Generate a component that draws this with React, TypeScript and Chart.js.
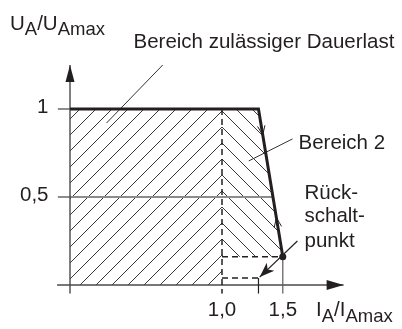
import React, { useEffect, useRef } from 'react';
import { Chart, registerables, LinearScale } from 'chart.js';

Chart.register(...registerables);

// ---------- data (real axis units: I_A/I_Amax, U_A/U_Amax) ----------
const xTicks = [1.0, 1.5];
const xTickLabels = ['1,0', '1,5'];
const yTicks = [0.5, 1];
const yTickLabels = ['0,5', '1'];

const limitX = [0, 1.3, 1.5];
const limitY = [1, 1, 0.16];

const region1X = [0, 1.0];
const region1Y = [1, 1];
const region2X = [1.0, 1.3, 1.5];
const region2Y = [1, 1, 0.16];
const region2Floor = 0.16;

const switchPointX = [1.5];
const switchPointY = [0.16];

const dashTopX = [1.0, 1.5];
const dashTopY = [0.16, 0.16];
const dashBottomX = [1.0, 1.3];
const dashBottomY = [0.04, 0.04];
const dashVertX = [1.0, 1.0];
const dashVertY = [1, -0.05];
const tick13X = [1.3, 1.3];
const tick13Y = [0.04, -0.05];
const vert15X = [1.5, 1.5];
const vert15Y = [0.16, -0.05];

const gridHalfX = [-0.08, 1.42];
const gridHalfY = [0.5, 0.5];
const gridOneX = [-0.08, 0];
const gridOneY = [1, 1];

const xAxisX = [-0.085, 2.0];
const xAxisY = [0, 0];
const yAxisX = [0, 0];
const yAxisY = [-0.05, 1.25];

const leader1X = [0.61, 0.24];
const leader1Y = [1.25, 0.92];
const leader2X = [1.58, 1.22];
const leader2Y = [0.83, 0.705];
const returnArrowX = [1.62, 1.31];
const returnArrowY = [0.25, 0.045];

// ---------- styling ----------
const INK = '#231f20';
const FONT = '"Liberation Sans", Arial, Helvetica, sans-serif';
const MAIN = 20.5;
const SUB = 18.5;
const HATCH = 16;

// The original draws the axis beyond 1,0 compressed (schematic axis)
class SchematicScale extends LinearScale {
  static id = 'schematic';
  getPixelForValue(value: number) {
    if (value === null || value === undefined || isNaN(value)) return NaN;
    const u = value <= 1 ? value : 1 + (value - 1) * 0.8;
    return super.getPixelForValue(u);
  }
}
Chart.register(SchematicScale as any);

const pts = (xs: number[], ys: number[]) => xs.map((x, i) => ({ x, y: ys[i] }));

function makeHatch(ctx: CanvasRenderingContext2D, kind: 'fwd' | 'back') {
  const s = HATCH;
  const c = document.createElement('canvas');
  c.width = s;
  c.height = s;
  const g = c.getContext('2d')!;
  g.strokeStyle = '#3a3a3a';
  g.lineWidth = 1;
  g.beginPath();
  if (kind === 'fwd') {
    g.moveTo(-2, s + 2); g.lineTo(s + 2, -2);
    g.moveTo(-2, 2); g.lineTo(2, -2);
    g.moveTo(s - 2, s + 2); g.lineTo(s + 2, s - 2);
  } else {
    g.moveTo(-2, -2); g.lineTo(s + 2, s + 2);
    g.moveTo(s - 2, -2); g.lineTo(s + 2, 2);
    g.moveTo(-2, s - 2); g.lineTo(2, s + 2);
  }
  g.stroke();
  return ctx.createPattern(c, 'repeat')!;
}

function line(data: { x: number; y: number }[], color: string, width: number, order: number, dash: number[] = []) {
  return {
    type: 'line' as const,
    data,
    borderColor: color,
    borderWidth: width,
    borderDash: dash,
    pointRadius: 0,
    fill: false,
    tension: 0,
    order,
  };
}

function drawRich(ctx: CanvasRenderingContext2D, parts: [string, boolean][], x: number, base: number, subDrop: number) {
  let cx = x;
  for (const [t, sub] of parts) {
    ctx.font = `${sub ? SUB : MAIN}px ${FONT}`;
    ctx.fillText(t, cx, sub ? base + subDrop : base);
    cx += ctx.measureText(t).width;
  }
}

function filledHead(ctx: CanvasRenderingContext2D, tx: number, ty: number, fx: number, fy: number, len: number, half: number, barb = 0) {
  const dx = tx - fx, dy = ty - fy;
  const d = Math.hypot(dx, dy);
  const ux = dx / d, uy = dy / d;
  const nx = -uy, ny = ux;
  const bx = tx - ux * len, by = ty - uy * len;
  ctx.beginPath();
  ctx.moveTo(tx, ty);
  ctx.lineTo(bx + nx * half, by + ny * half);
  ctx.lineTo(tx - ux * (len - barb), ty - uy * (len - barb));
  ctx.lineTo(bx - nx * half, by - ny * half);
  ctx.closePath();
  ctx.fill();
}

function openHead(ctx: CanvasRenderingContext2D, tx: number, ty: number, ux: number, uy: number, len: number, ang: number) {
  const c = Math.cos(ang), s = Math.sin(ang);
  const bx = -ux, by = -uy;
  const a1x = bx * c - by * s, a1y = bx * s + by * c;
  const a2x = bx * c + by * s, a2y = -bx * s + by * c;
  ctx.beginPath();
  ctx.moveTo(tx + a1x * len, ty + a1y * len);
  ctx.lineTo(tx, ty);
  ctx.lineTo(tx + a2x * len, ty + a2y * len);
  ctx.stroke();
}

export default function App() {
  const ref = useRef<HTMLCanvasElement>(null);

  useEffect(() => {
    const canvas = ref.current!;
    const ctx0 = canvas.getContext('2d')!;
    const hatchA = makeHatch(ctx0, 'fwd');
    const hatchB = makeHatch(ctx0, 'back');

    const decor = {
      id: 'decor',
      beforeDraw(chart: any) {
        const xs = chart.scales.x, ys = chart.scales.y;
        const px = xs.getPixelForValue(1.0);
        const apex = ys.getPixelForValue(1) + 2;
        hatchA.setTransform(new DOMMatrix([1, 0, 0, 1, px + apex, 0]));
        hatchB.setTransform(new DOMMatrix([1, 0, 0, 1, px - apex, 0]));
      },
      afterDatasetsDraw(chart: any) {
        const ctx: CanvasRenderingContext2D = chart.ctx;
        const xs = chart.scales.x, ys = chart.scales.y;
        const P = (x: number, y: number) => [xs.getPixelForValue(x), ys.getPixelForValue(y)];
        ctx.save();
        ctx.fillStyle = INK;
        ctx.strokeStyle = INK;
        // axis arrows
        const [yx, yt] = P(yAxisX[1], yAxisY[1]);
        filledHead(ctx, yx, yt, yx, yt + 30, 17, 4.5);
        const [xt, xy] = P(xAxisX[1], xAxisY[1]);
        filledHead(ctx, xt, xy, xt - 30, xy, 17, 5);
        // return arrow head
        const [ax, ay] = P(returnArrowX[1], returnArrowY[1]);
        const [fx, fy] = P(returnArrowX[0], returnArrowY[0]);
        filledHead(ctx, ax, ay, fx, fy, 15, 5.5, 4);
        // small open arrows on the descending limit line
        const [s1x, s1y] = P(limitX[1], limitY[1]);
        const [s2x, s2y] = P(limitX[2], limitY[2]);
        const dl = Math.hypot(s2x - s1x, s2y - s1y);
        const ux = (s2x - s1x) / dl, uy = (s2y - s1y) / dl;
        ctx.lineWidth = 1;
        openHead(ctx, s1x + (s2x - s1x) * 0.176, s1y + (s2y - s1y) * 0.176, ux, uy, 10, 0.38);
        openHead(ctx, s1x + (s2x - s1x) * 0.736, s1y + (s2y - s1y) * 0.736, -ux, -uy, 10, 0.38);
        ctx.restore();
      },
      afterDraw(chart: any) {
        const ctx: CanvasRenderingContext2D = chart.ctx;
        ctx.save();
        ctx.fillStyle = INK;
        ctx.textAlign = 'left';
        ctx.textBaseline = 'alphabetic';
        ctx.font = `${MAIN}px ${FONT}`;
        ctx.fillText('Bereich zulässiger Dauerlast', 133.5, 48);
        ctx.fillText('Bereich 2', 298.5, 149);
        ctx.fillText('Rück-', 304.5, 199);
        ctx.fillText('schalt-', 304.5, 222);
        ctx.fillText('punkt', 304.5, 246.5);
        drawRich(ctx, [['U', false], ['A', true], ['/U', false], ['Amax', true]], 10, 30, 5);
        drawRich(ctx, [['I', false], ['A', true], ['/I', false], ['Amax', true]], 316, 316, 6);
        ctx.restore();
      },
    };

    const chart = new Chart(canvas, {
      type: 'line',
      data: {
        datasets: [
          { ...line(pts(region1X, region1Y), 'rgba(0,0,0,0)', 0, 20), fill: 'origin', backgroundColor: hatchA } as any,
          { ...line(pts(region2X, region2Y), 'rgba(0,0,0,0)', 0, 19), fill: { value: region2Floor }, backgroundColor: hatchB } as any,
          line(pts(gridHalfX, gridHalfY), '#8c8c8c', 2, 12),
          line(pts(gridOneX, gridOneY), '#8c8c8c', 2, 12),
          line(pts(xAxisX, xAxisY), '#4a4a4a', 1.5, 11),
          line(pts(yAxisX, yAxisY), '#4a4a4a', 1.4, 11),
          line(pts(vert15X, vert15Y), '#5a5a5a', 1.2, 10),
          line(pts(tick13X, tick13Y), INK, 1.2, 10),
          line(pts(dashVertX, dashVertY), INK, 1.5, 9, [6, 4]),
          line(pts(dashTopX, dashTopY), INK, 1.5, 9, [6, 4]),
          line(pts(dashBottomX, dashBottomY), INK, 1.5, 9, [6, 4]),
          line(pts(leader1X, leader1Y), '#333', 1, 8),
          line(pts(leader2X, leader2Y), '#333', 1, 8),
          line(pts(returnArrowX, returnArrowY), INK, 1.2, 8),
          line(pts(limitX, limitY), INK, 3, 2),
          {
            type: 'line',
            data: pts(switchPointX, switchPointY),
            showLine: false,
            pointRadius: 3.5,
            pointBackgroundColor: INK,
            pointBorderColor: INK,
            pointBorderWidth: 0,
            order: 1,
          } as any,
        ],
      },
      options: {
        responsive: false,
        animation: false,
        events: [],
        layout: { padding: { top: 65, right: 47, left: 0, bottom: 0 } },
        plugins: {
          legend: { display: false },
          tooltip: { enabled: false },
          title: { display: false },
        },
        scales: {
          x: {
            type: 'schematic' as any,
            min: -0.125,
            max: 1.875,
            grid: { display: false, drawTicks: false },
            border: { display: false },
            afterBuildTicks: (s: any) => {
              s.ticks = xTicks.map((v) => ({ value: v }));
            },
            afterFit: (s: any) => {
              s.height = 35.2;
            },
            ticks: {
              autoSkip: false,
              maxRotation: 0,
              minRotation: 0,
              padding: 4,
              color: INK,
              font: { family: FONT, size: MAIN },
              callback: (_v: any, i: number) => xTickLabels[i],
            },
          } as any,
          y: {
            type: 'linear',
            min: -0.05,
            max: 1.25,
            grid: { display: false, drawTicks: false },
            border: { display: false },
            afterBuildTicks: (s: any) => {
              s.ticks = yTicks.map((v) => ({ value: v }));
            },
            afterFit: (s: any) => {
              s.width = 51;
            },
            ticks: {
              autoSkip: false,
              padding: 2.5,
              labelOffset: -2,
              color: INK,
              font: { family: FONT, size: MAIN },
              callback: (_v: any, i: number) => yTickLabels[i],
            },
          },
        },
      },
      plugins: [decor],
    } as any);

    return () => chart.destroy();
  }, []);

  return (
    <div style={{ position: 'fixed', left: 0, top: 0, width: 402, height: 329, background: '#fff' }}>
      <canvas ref={ref} width={402} height={329} style={{ display: 'block', width: 402, height: 329 }} />
    </div>
  );
}
